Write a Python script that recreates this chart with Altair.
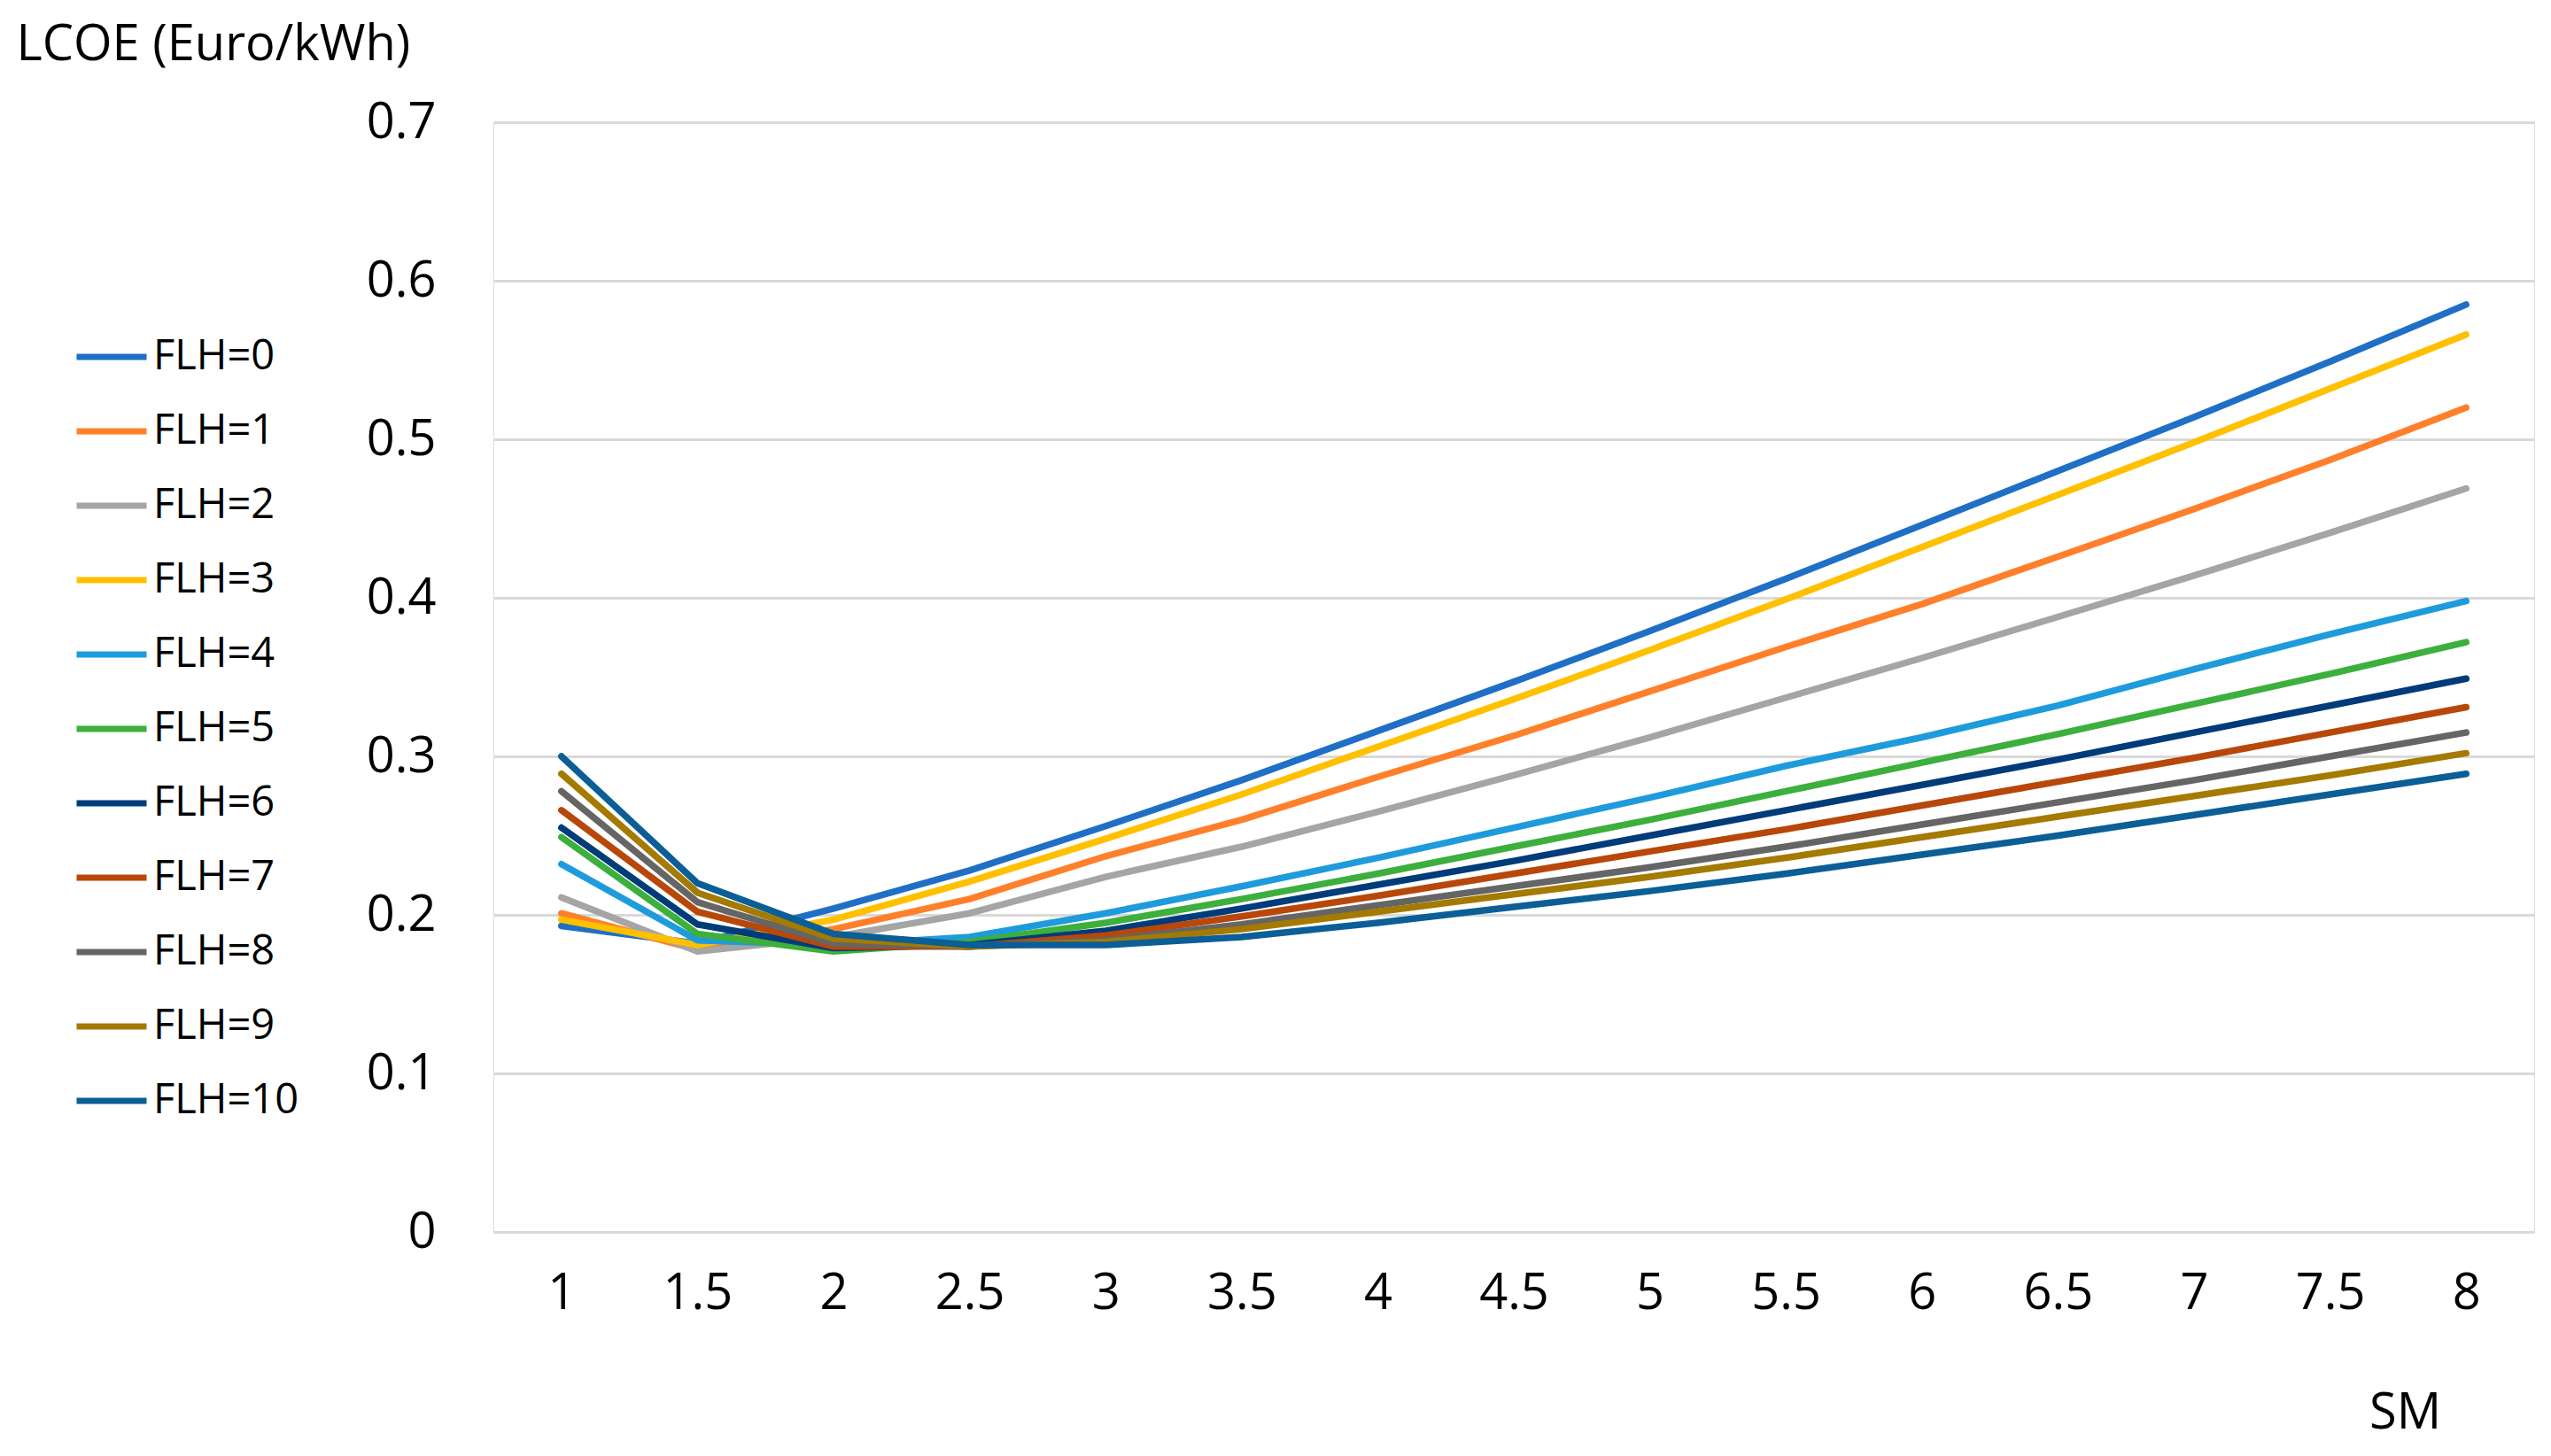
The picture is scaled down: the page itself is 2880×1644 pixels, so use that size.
import altair as alt
import pandas as pd

sm_labels = ["1", "1.5", "2", "2.5", "3", "3.5", "4", "4.5", "5", "5.5", "6", "6.5", "7", "7.5", "8"]

series_names = ["FLH=0", "FLH=1", "FLH=2", "FLH=3", "FLH=4", "FLH=5",
                "FLH=6", "FLH=7", "FLH=8", "FLH=9", "FLH=10"]

flh0 = [0.193, 0.182, 0.204, 0.228, 0.256, 0.285, 0.316, 0.347, 0.379, 0.412, 0.446, 0.480, 0.514, 0.549, 0.585]
flh1 = [0.201, 0.178, 0.191, 0.210, 0.237, 0.260, 0.287, 0.313, 0.341, 0.369, 0.396, 0.426, 0.456, 0.487, 0.520]
flh2 = [0.211, 0.177, 0.186, 0.201, 0.224, 0.243, 0.265, 0.288, 0.312, 0.337, 0.362, 0.388, 0.414, 0.441, 0.469]
flh3 = [0.197, 0.181, 0.197, 0.221, 0.248, 0.276, 0.306, 0.336, 0.367, 0.399, 0.432, 0.465, 0.498, 0.532, 0.566]
flh4 = [0.232, 0.184, 0.181, 0.186, 0.201, 0.218, 0.236, 0.255, 0.274, 0.294, 0.312, 0.332, 0.355, 0.377, 0.398]
flh5 = [0.249, 0.188, 0.177, 0.183, 0.195, 0.210, 0.226, 0.243, 0.260, 0.278, 0.296, 0.314, 0.333, 0.352, 0.372]
flh6 = [0.255, 0.194, 0.179, 0.181, 0.190, 0.204, 0.219, 0.234, 0.250, 0.266, 0.282, 0.298, 0.315, 0.332, 0.349]
flh7 = [0.266, 0.202, 0.180, 0.180, 0.187, 0.199, 0.212, 0.226, 0.240, 0.254, 0.269, 0.284, 0.299, 0.315, 0.331]
flh8 = [0.278, 0.208, 0.182, 0.180, 0.184, 0.194, 0.206, 0.218, 0.230, 0.243, 0.257, 0.271, 0.285, 0.300, 0.315]
flh9 = [0.289, 0.214, 0.185, 0.180, 0.183, 0.191, 0.202, 0.213, 0.224, 0.236, 0.249, 0.262, 0.275, 0.288, 0.302]
flh10 = [0.300, 0.220, 0.188, 0.181, 0.181, 0.186, 0.195, 0.205, 0.215, 0.226, 0.238, 0.250, 0.263, 0.276, 0.289]

series_values = [flh0, flh1, flh2, flh3, flh4, flh5, flh6, flh7, flh8, flh9, flh10]

colors = ["#1F6FC6", "#FF7F2A", "#A5A5A5", "#FFC000", "#1E9BDC", "#3CAF3C",
          "#003B7A", "#B8470A", "#656565", "#A47A00", "#0B5E96"]

y_ticks = [0, 0.1, 0.2, 0.3, 0.4, 0.5, 0.6, 0.7]

rows = []
for si, (name, vals) in enumerate(zip(series_names, series_values)):
    for xi, (lab, v) in enumerate(zip(sm_labels, vals)):
        rows.append({"SM": lab, "LCOE": v, "series": name, "order": si, "xi": xi})
df = pd.DataFrame(rows)

FONT = "Open Sans"

chart = alt.Chart(df).mark_line(strokeWidth=7.5, strokeCap="round", strokeJoin="round").encode(
    x=alt.X("SM:N", sort=sm_labels,
            scale=alt.Scale(type="point", padding=0.5),
            axis=alt.Axis(title="SM", labelAngle=0, tickSize=0, ticks=False,
                          domain=True, domainColor="#d9d9d9", domainWidth=3,
                          grid=False, labelFontSize=56, labelFont=FONT,
                          labelColor="#000000", labelPadding=42,
                          titleFont=FONT, titleFontSize=56, titleFontWeight="normal",
                          titleColor="#000000", titleX=2158, titleY=204,
                          titleAlign="center", titleBaseline="middle")),
    y=alt.Y("LCOE:Q",
            scale=alt.Scale(domain=[0, 0.7], nice=False, zero=True),
            axis=alt.Axis(title="LCOE (Euro/kWh)", values=y_ticks, format="~g",
                          grid=True, gridColor="#d9d9d9", gridWidth=3,
                          domain=False, ticks=False, tickSize=0,
                          labelFontSize=56, labelFont=FONT, labelColor="#000000",
                          labelPadding=65,
                          titleFont=FONT, titleFontSize=56, titleFontWeight="normal",
                          titleColor="#000000", titleAngle=0, titleAlign="left",
                          titleBaseline="middle", titleX=-539, titleY=-88)),
    color=alt.Color("series:N", sort=series_names,
                    scale=alt.Scale(domain=series_names, range=colors),
                    legend=alt.Legend(title=None, orient="none", legendX=-474, legendY=222,
                                      symbolType="stroke", symbolStrokeWidth=7,
                                      symbolSize=6241, labelFontSize=47, labelFont=FONT,
                                      labelColor="#000000", rowPadding=18, labelOffset=4,
                                      labelLimit=400, padding=0)),
    order=alt.Order("xi:Q"),
    detail="series:N",
).properties(
    width=2304,
    height=1253,
    autosize=alt.AutoSizeParams(type="none"),
    padding={"left": 549, "top": 130, "right": 10, "bottom": 245},
).configure_view(
    stroke=None
).configure(
    background="white"
)

chart.save("out.html", embed_options={"renderer": "svg", "actions": False})
